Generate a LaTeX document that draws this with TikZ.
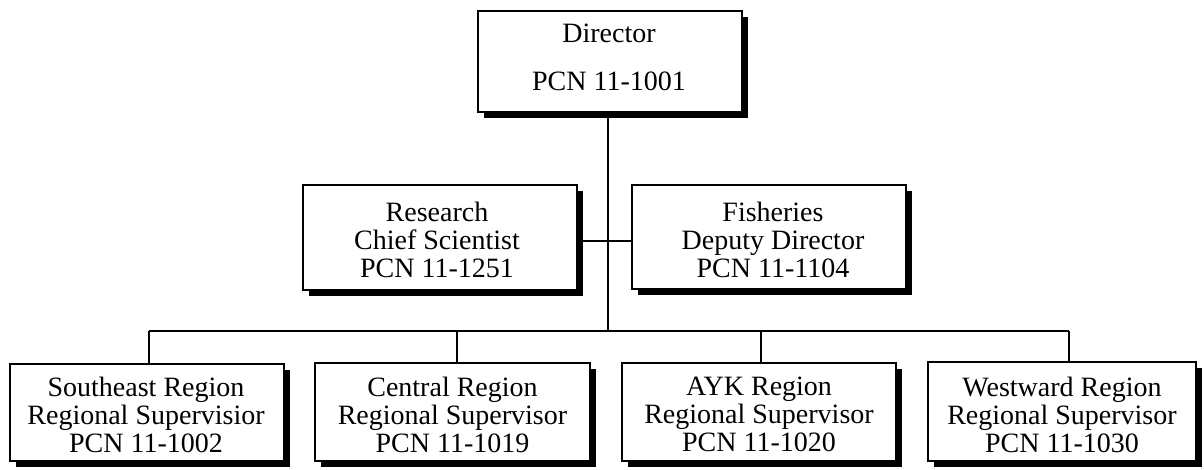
\documentclass[tikz,border=0pt]{standalone}
\usepackage{fontspec}
\setmainfont{Liberation Serif}
\usetikzlibrary{shadows,calc}

\begin{document}
\begin{tikzpicture}[x=1pt,y=-1pt,
  box/.style={draw, line width=1.8pt, fill=white, inner sep=0pt,
    drop shadow={shadow xshift=6pt, shadow yshift=-6pt, fill=black, opacity=1}},
  lbl/.style={align=center, font=\fontsize{28}{28}\selectfont, inner sep=0pt},
  link/.style={line width=1.6pt}]
\useasboundingbox (0,0) rectangle (1204,469);

% chart boxes
\node[box, minimum width=264pt, minimum height=101pt] (dir) at (610,61.5) {};
\node[box, minimum width=274pt, minimum height=105pt] (res) at (440,237.5) {};
\node[box, minimum width=274pt, minimum height=104pt] (fis) at (769,237) {};
\node[box, minimum width=274pt, minimum height=97pt]  (se)  at (147,412.5) {};
\node[box, minimum width=275pt, minimum height=98pt]  (cen) at (452.5,412) {};
\node[box, minimum width=274pt, minimum height=98pt]  (ayk) at (759,412) {};
\node[box, minimum width=268pt, minimum height=99pt]  (ws)  at (1062,411.5) {};

% box captions
\node[lbl] (dirT) at (609,57.5) {Director\\[20pt]PCN 11-1001};
\node[lbl] (resT) at (437,239.5) {Research\\Chief Scientist\\PCN 11-1251};
\node[lbl] (fisT) at (773,239.5) {Fisheries\\Deputy Director\\PCN 11-1104};
\node[lbl] (seT)  at (146,414.5) {Southeast Region\\Regional Supervisior\\PCN 11-1002};
\node[lbl] (cenT) at (452.5,414.5) {Central Region\\Regional Supervisor\\PCN 11-1019};
\node[lbl] (aykT) at (759,414.5) {AYK Region\\Regional Supervisor\\PCN 11-1020};
\node[lbl] (wsT)  at (1062,414.5) {Westward Region\\Regional Supervisor\\PCN 11-1030};

% reporting lines
\coordinate (bus) at (608,331);
\coordinate (mid) at (608,241);
\coordinate (seTop)  at ($(se.north)+(2,0)$);
\coordinate (cenTop) at ($(cen.north)+(4.5,0)$);
\coordinate (aykTop) at ($(ayk.north)+(2,0)$);
\coordinate (wsTop)  at ($(ws.north)+(7,0)$);
\draw[link] (bus |- dir.south) -- (bus);
\draw[link] (mid -| res.east) -- (mid -| fis.west);
\draw[link] (seTop |- bus) -- (wsTop |- bus);
\foreach \n in {seTop,cenTop,aykTop,wsTop}
  \draw[link] (\n |- bus) -- (\n);
\end{tikzpicture}
\end{document}
